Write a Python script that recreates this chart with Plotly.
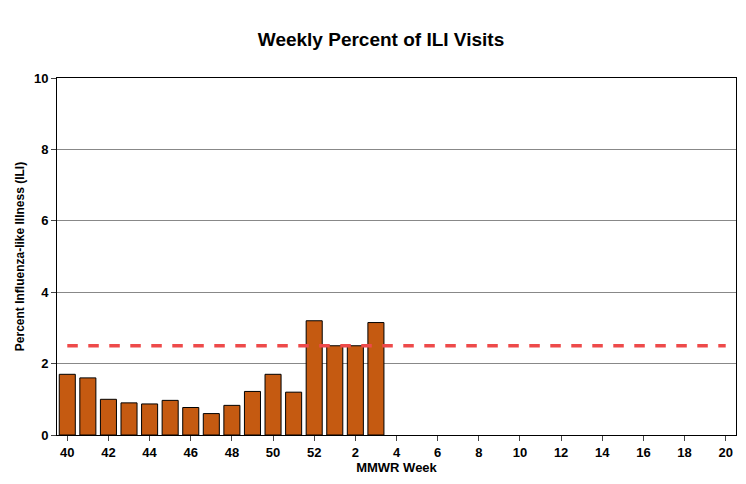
import plotly.graph_objects as go

weeks = [str(w) for w in list(range(40, 53)) + list(range(1, 21))]
ili = [1.7, 1.6, 1.0, 0.9, 0.87, 0.97, 0.77, 0.6, 0.83, 1.22, 1.7, 1.2, 3.2, 2.5, 2.5, 3.15]
baseline = 2.5
tick_labels = [w for i, w in enumerate(weeks) if i % 2 == 0]

fig = go.Figure()
fig.add_bar(x=weeks[:len(ili)], y=ili, marker_color="#c55a11",
            marker_line_color="black", marker_line_width=1, width=0.78)
fig.add_scatter(x=weeks, y=[baseline] * len(weeks), mode="lines",
                line=dict(color="#ee4a4a", width=3.5, dash="dash"))
fig.update_layout(
    width=746, height=484, showlegend=False,
    plot_bgcolor="white", paper_bgcolor="white",
    margin=dict(l=42, r=18, t=70, b=57),
    font=dict(family="Liberation Sans, Arial", color="black"),
    title=dict(text="<b>Weekly Percent of ILI Visits</b>", x=0.5, y=0.95,
               font=dict(size=19)),
)
fig.update_xaxes(type="category", categoryorder="array", categoryarray=weeks,
                 tickvals=tick_labels, ticktext=["<b>" + t + "</b>" for t in tick_labels],
                 range=[-0.5, len(weeks) - 0.5],
                 showline=True, linecolor="black", mirror=True, ticks="outside",
                 tickfont=dict(size=13),
                 title=dict(text="<b>MMWR Week</b>", font=dict(size=13), standoff=4))
fig.update_yaxes(range=[0, 10], dtick=2, showgrid=True, gridcolor="#888",
                 showline=True, linecolor="black", mirror=True, ticks="outside",
                 tickfont=dict(size=13), tickprefix="<b>", ticksuffix="</b>",
                 title=dict(text="<b>Percent Influenza-like Illness (ILI)</b>",
                            font=dict(size=12), standoff=6))
fig.write_html("out.html")
